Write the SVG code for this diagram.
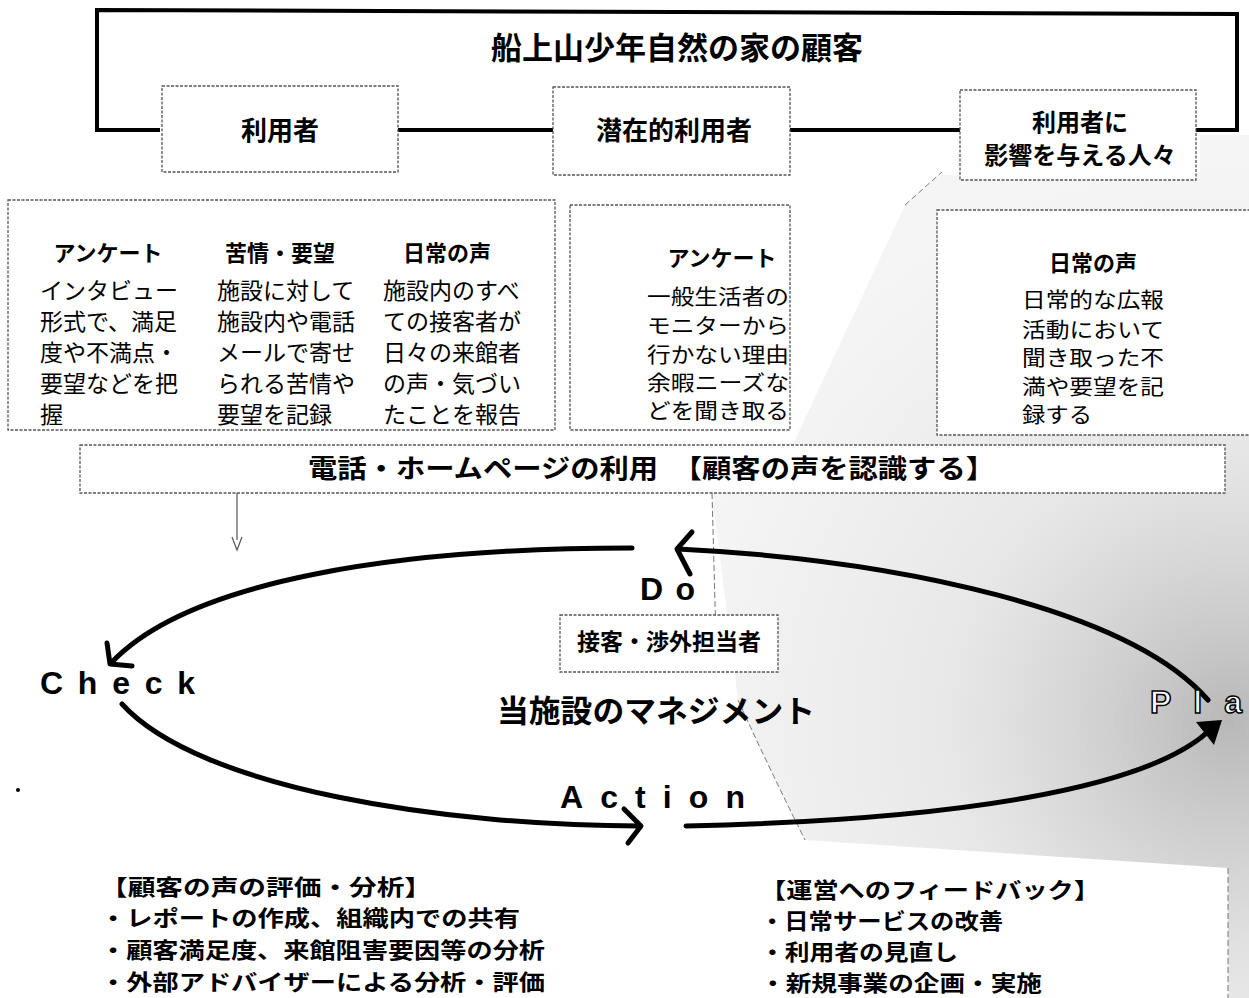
<svg xmlns="http://www.w3.org/2000/svg" width="1249" height="998" viewBox="0 0 1249 998">
<style>
.jp{font-family:"Noto Sans CJK JP","Noto Sans CJK SC",sans-serif;fill:#000}
.b{font-weight:bold}
.body{font-size:23px}
.sm{font-size:21px}
.hd{font-size:22px;font-weight:bold}
.bt{font-size:22px}
.box{fill:#fff;stroke:#555;stroke-width:1.3;stroke-dasharray:3 1.5}
.conn{fill:none;stroke:#000;stroke-width:4}
.arc{fill:none;stroke:#000;stroke-width:5;stroke-linecap:round}
.head{fill:none;stroke:#000;stroke-width:5;stroke-linecap:round;stroke-linejoin:round}
.lat{font-family:"Liberation Sans",Arial,sans-serif;font-weight:bold;font-size:32px}
.thin{fill:none;stroke:#777;stroke-width:1;stroke-dasharray:6 3}
</style>
<defs>
<radialGradient id="g" cx="1230" cy="720" r="560" gradientUnits="userSpaceOnUse">
<stop offset="0" stop-color="#999" stop-opacity="0.7"/>
<stop offset="0.5" stop-color="#c4c4c4" stop-opacity="0.4"/>
<stop offset="1" stop-color="#ddd" stop-opacity="0.3"/>
</radialGradient>
</defs>
<rect width="1249" height="998" fill="#fff"/>
<path d="M940 175 L1200 172 L1200 135 L1249 135 L1249 998 L1228 998 L1228 868 L805 840 Q770 770 738 700 L712 495 L795 440 L905 205 Z" fill="url(#g)"/>
<path class="thin" d="M905 205 L942 172 M712 493 L716 640 M738 700 Q770 770 805 840 M1228 868 L1228 998"/>

<g id="connectors">
<path class="conn" d="M160 130 L97 130 L97 10 L1237 14 L1237 130 L1196 130" stroke-width="5"/>
<path class="conn" d="M398 130 L553 130 M790 130 L960 130"/>
<path d="M237 493 L237 540 M232 537 L237 550 L242 537" fill="none" stroke="#555" stroke-width="1.2"/>
<path class="arc" d="M632 548 C400 548 190 580 112 662"/>
<path class="head" d="M107 643 L110 664 L132 666"/>
<path class="arc" d="M678 549 C900 560 1130 610 1208 700"/>
<path class="head" d="M692 532 L677 549 L690 574"/>
<path class="arc" d="M122 704 C200 790 450 826 640 826"/>
<path class="head" d="M624 809 L641 826 L628 843"/>
<path class="arc" d="M686 826 C950 820 1150 790 1212 728"/>
<path d="M1222 720 L1196 722 L1214 745 Z" fill="#000"/>
</g>

<g id="title"><text class="jp b" x="677" y="59" font-size="31" text-anchor="middle">船上山少年自然の家の顧客</text></g>

<g id="n-users">
<rect class="box" x="162" y="86" width="236" height="86"/>
<text class="jp b" x="280" y="140" font-size="26" text-anchor="middle">利用者</text>
</g>
<g id="n-potential">
<rect class="box" x="553" y="87" width="237" height="88"/>
<text class="jp b" x="674" y="140" font-size="26" text-anchor="middle">潜在的利用者</text>
</g>
<g id="n-influencers">
<rect class="box" x="960" y="90" width="236" height="90"/>
<text class="jp b" x="1080" y="131" font-size="24" text-anchor="middle">利用者に</text>
<text class="jp b" x="1080" y="164" font-size="24" text-anchor="middle">影響を与える人々</text>
</g>

<g id="n-users-detail">
<rect class="box" x="8" y="200" width="547" height="230"/>
<text class="jp hd" x="108" y="261" text-anchor="middle">アンケート</text>
<text class="jp hd" x="280" y="261" text-anchor="middle">苦情・要望</text>
<text class="jp hd" x="447" y="261" text-anchor="middle">日常の声</text>
<g class="jp body">
<text x="40" y="299">インタビュー</text>
<text x="40" y="330">形式で、満足</text>
<text x="40" y="361">度や不満点・</text>
<text x="40" y="392">要望などを把</text>
<text x="40" y="423">握</text>
<text x="217" y="299">施設に対して</text>
<text x="217" y="330">施設内や電話</text>
<text x="217" y="361">メールで寄せ</text>
<text x="217" y="392">られる苦情や</text>
<text x="217" y="423">要望を記録</text>
<text x="383" y="299">施設内のすべ</text>
<text x="383" y="330">ての接客者が</text>
<text x="383" y="361">日々の来館者</text>
<text x="383" y="392">の声・気づい</text>
<text x="383" y="423">たことを報告</text>
</g>
</g>

<g id="n-potential-detail">
<rect class="box" x="570" y="205" width="220" height="225"/>
<text class="jp hd" x="722" y="266" text-anchor="middle">アンケート</text>
<g class="jp sm">
<text x="647" y="304" textLength="142" lengthAdjust="spacingAndGlyphs">一般生活者の</text>
<text x="647" y="333" textLength="142" lengthAdjust="spacingAndGlyphs">モニターから</text>
<text x="647" y="362" textLength="142" lengthAdjust="spacingAndGlyphs">行かない理由</text>
<text x="647" y="390" textLength="142" lengthAdjust="spacingAndGlyphs">余暇ニーズな</text>
<text x="647" y="418" textLength="142" lengthAdjust="spacingAndGlyphs">どを聞き取る</text>
</g>
</g>

<g id="n-influencers-detail">
<rect class="box" x="937" y="210" width="320" height="225"/>
<text class="jp hd" x="1093" y="271" text-anchor="middle">日常の声</text>
<g class="jp sm">
<text x="1022" y="307" textLength="142" lengthAdjust="spacingAndGlyphs">日常的な広報</text>
<text x="1022" y="337" textLength="142" lengthAdjust="spacingAndGlyphs">活動において</text>
<text x="1022" y="365" textLength="142" lengthAdjust="spacingAndGlyphs">聞き取った不</text>
<text x="1022" y="394" textLength="142" lengthAdjust="spacingAndGlyphs">満や要望を記</text>
<text x="1022" y="422" textLength="70" lengthAdjust="spacingAndGlyphs">録する</text>
</g>
</g>

<g id="n-recognize">
<rect class="box" x="80" y="445" width="1145" height="48"/>
<text class="jp b" x="308" y="478" font-size="26" textLength="687" lengthAdjust="spacingAndGlyphs">電話・ホームページの利用　【顧客の声を認識する】</text>
</g>

<g id="n-do"><text class="lat" x="640" y="600" textLength="55" lengthAdjust="spacing">Do</text></g>
<g id="n-check"><text class="lat" x="40" y="694" textLength="155" lengthAdjust="spacing">Check</text></g>
<g id="n-action"><text class="lat" x="560" y="808" textLength="185" lengthAdjust="spacing">Action</text></g>
<g id="n-plan"><text class="lat" x="1150" y="713" fill="#fff" stroke="#000" stroke-width="1.5" textLength="92" lengthAdjust="spacing">Pla</text></g>

<g id="n-staff">
<rect class="box" x="560" y="615" width="218" height="57"/>
<text class="jp b" x="669" y="650" font-size="23" text-anchor="middle">接客・渉外担当者</text>
</g>
<g id="n-management"><text class="jp b" x="497" y="722" font-size="31" textLength="318" lengthAdjust="spacingAndGlyphs">当施設のマネジメント</text></g>

<g id="n-evaluation" class="jp b bt">
<text x="100" y="895" textLength="332" lengthAdjust="spacingAndGlyphs">【顧客の声の評価・分析】</text>
<text x="100" y="926" textLength="420" lengthAdjust="spacingAndGlyphs">・レポートの作成、組織内での共有</text>
<text x="100" y="958" textLength="445" lengthAdjust="spacingAndGlyphs">・顧客満足度、来館阻害要因等の分析</text>
<text x="100" y="990" textLength="445" lengthAdjust="spacingAndGlyphs">・外部アドバイザーによる分析・評価</text>
</g>
<g id="n-feedback" class="jp b bt">
<text x="760" y="898" textLength="340" lengthAdjust="spacingAndGlyphs">【運営へのフィードバック】</text>
<text x="760" y="929" textLength="243" lengthAdjust="spacingAndGlyphs">・日常サービスの改善</text>
<text x="760" y="960" textLength="198" lengthAdjust="spacingAndGlyphs">・利用者の見直し</text>
<text x="760" y="991" textLength="282" lengthAdjust="spacingAndGlyphs">・新規事業の企画・実施</text>
</g>
<circle cx="18" cy="790" r="2" fill="#000"/>
</svg>
